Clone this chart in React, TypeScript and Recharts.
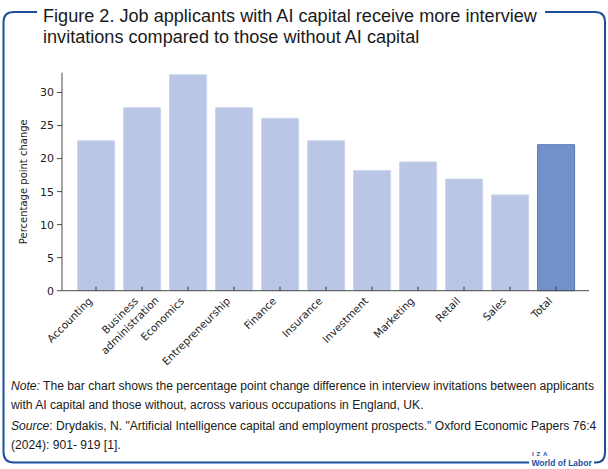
import React from "react";
import { BarChart, Bar, XAxis, YAxis, Cell } from "recharts";

const occupations = [
  "Accounting",
  "Business administration",
  "Economics",
  "Entrepreneurship",
  "Finance",
  "Insurance",
  "Investment",
  "Marketing",
  "Retail",
  "Sales",
  "Total",
];
const pointChange = [22.7, 27.7, 32.7, 27.7, 26.1, 22.7, 18.2, 19.5, 16.9, 14.5, 22.1];
const yTicks = [0, 5, 10, 15, 20, 25, 30];
const highlighted = "Total";

const titleLines = [
  "Figure 2. Job applicants with AI capital receive more interview",
  "invitations compared to those without AI capital",
];
const noteLines = [
  "The bar chart shows the percentage point change difference in interview invitations between applicants",
  "with AI capital and those without, across various occupations in England, UK.",
];
const sourceLines = [
  "Drydakis, N. \"Artificial Intelligence capital and employment prospects.\" Oxford Economic Papers 76:4",
  "(2024): 901- 919 [1].",
];

const data = occupations.map((name, i) => ({ name, value: pointChange[i] }));

const SANS = "'Liberation Sans', Arial, sans-serif";
const AXIS_FONT = "'DejaVu Sans', Tahoma, Verdana, sans-serif";
const TICK_SIZE = 10.5;
const FRAME = "#1d4f9e";
const INK = "#1a1a1a";

let measureCtx: CanvasRenderingContext2D | null = null;
function textWidth(s: string, font: string) {
  if (!measureCtx && typeof document !== "undefined") {
    measureCtx = document.createElement("canvas").getContext("2d");
  }
  if (!measureCtx) return s.length * 6;
  measureCtx.font = font;
  return measureCtx.measureText(s).width;
}

/* rotated category label + short tick pointing into the plot */
function OccupationTick(props: any) {
  const { x, y, payload } = props;
  const lines = String(payload.value).split(" ");
  const ax = x - 3;
  const ay = y + 11;
  const first = textWidth(lines[0], `${TICK_SIZE}px 'DejaVu Sans'`);
  const cx = ax - first / 2;
  return (
    <g>
      <line x1={x} x2={x} y1={y} y2={y - 4} stroke="#3a3a3a" />
      <text
        transform={`rotate(-45 ${ax} ${ay})`}
        x={cx}
        y={ay}
        textAnchor="middle"
        fill="#222"
        style={{ fontSize: TICK_SIZE, fontFamily: AXIS_FONT }}
      >
        {lines.map((l, i) => (
          <tspan key={i} x={cx} dy={i === 0 ? 0 : 14}>
            {l}
          </tspan>
        ))}
      </text>
    </g>
  );
}

export default function App() {
  // the original uses a condensed face; squeeze Liberation Sans to the same widths
  const titleK = 495 / textWidth(titleLines[0], `18.5px 'Liberation Sans'`);
  const noteK = 584 / textWidth("Note: " + noteLines[0], `13.5px 'Liberation Sans'`);

  return (
    <div
      style={{
        position: "absolute",
        left: 0,
        top: 0,
        width: 608,
        height: 469,
        background: "#fff",
        overflow: "hidden",
      }}
    >
      <div style={{ position: "absolute", left: 0, top: 0 }}>
        <BarChart
          width={608}
          height={390}
          data={data}
          margin={{ top: 72.7, right: 19, left: 0, bottom: 19.3 }}
          barCategoryGap="10%"
        >
          <XAxis
            dataKey="name"
            interval={0}
            height={80}
            padding={{ left: 11, right: 10 }}
            tickLine={false}
            tickSize={0}
            tickMargin={0}
            axisLine={{ stroke: "#4a4a4a" }}
            tick={<OccupationTick />}
          />
          <YAxis
            width={62}
            domain={[0, 33]}
            ticks={yTicks}
            tickSize={5}
            tickMargin={3}
            axisLine={{ stroke: "#4a4a4a" }}
            tickLine={{ stroke: "#4a4a4a" }}
            tick={{ fill: "#222", fontSize: 11, fontFamily: AXIS_FONT }}
            label={{
              value: "Percentage point change",
              angle: -90,
              position: "center",
              dx: -8,
              style: { fontSize: 10, fontFamily: AXIS_FONT, fill: "#222" },
            }}
          />
          <Bar dataKey="value" isAnimationActive={false}>
            {data.map((d, i) => (
              <Cell
                key={i}
                fill={d.name === highlighted ? "#7391c9" : "#bac6e6"}
                stroke={d.name === highlighted ? "#5877b8" : "#cdd6ee"}
                strokeWidth={1}
              />
            ))}
          </Bar>
        </BarChart>
      </div>

      {/* frame, title, notes, logo */}
      <svg width={608} height={469} style={{ position: "absolute", left: 0, top: 0 }}>
        <path
          d="M37 12 H14 Q3.5 12 3.5 22 V452 Q3.5 462.5 14 462.5 H529 M594 462.5 H596 Q605 462.5 605 452 V22 Q605 12 595 12 H545"
          fill="none"
          stroke={FRAME}
          strokeWidth={2}
        />

        <g transform={`translate(43 0) scale(${titleK} 1)`}>
          {titleLines.map((t, i) => (
            <text key={i} x={0} y={22.5 + i * 21} fill={INK} style={{ fontSize: 18.5, fontFamily: SANS }}>
              {t}
            </text>
          ))}
        </g>

        <g transform={`translate(11 0) scale(${noteK} 1)`} style={{ fontSize: 13.5, fontFamily: SANS }} fill={INK}>
          <text x={0} y={390}>
            <tspan fontStyle="italic">Note:</tspan> {noteLines[0]}
          </text>
          <text x={0} y={408.7}>
            {noteLines[1]}
          </text>
          <text x={0} y={430.5}>
            <tspan fontStyle="italic">Source</tspan>: {sourceLines[0]}
          </text>
          <text x={0} y={449.2}>
            {sourceLines[1]}
          </text>
        </g>

        <text
          x={532}
          y={456}
          fill={FRAME}
          style={{ fontSize: 6.2, fontWeight: 700, fontFamily: SANS, letterSpacing: 2.7 }}
        >
          IZA
        </text>
        <text x={531.5} y={466} fill={FRAME} style={{ fontSize: 8.5, fontWeight: 700, fontFamily: SANS }}>
          World of Labor
        </text>
      </svg>
    </div>
  );
}
